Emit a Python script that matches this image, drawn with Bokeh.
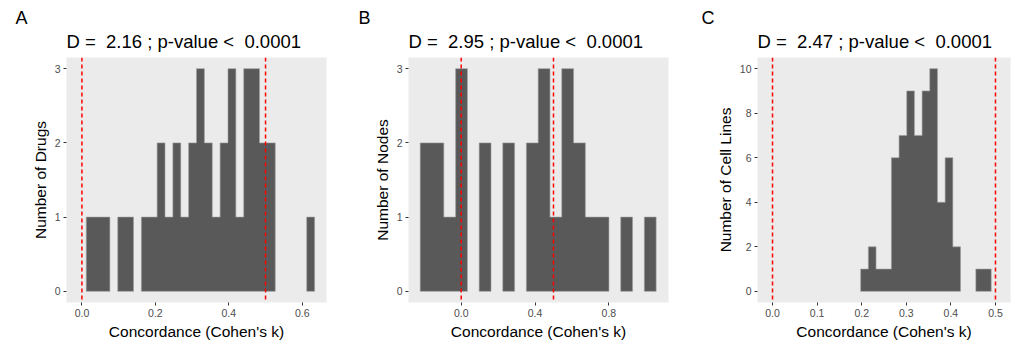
from bokeh.plotting import figure
from bokeh.models import Range1d, FixedTicker, Span, Title
from bokeh.layouts import row
from bokeh.embed import file_html
from bokeh.resources import INLINE
import numpy as np

FONT = "Liberation Sans"
NB = "\u00a0"

# ---- Panel A: drugs ----
a_counts = [0, 1, 1, 1, 0, 1, 1, 0, 1, 1, 2, 1, 2, 1, 2, 3, 2, 1, 2, 3, 1, 3, 3, 2, 2, 0, 0, 0, 0, 1]
a_bin_start = -0.0096
a_bin_width = 0.02144
a_xticks = [0.0, 0.2, 0.4, 0.6]
a_xlabels = ["0.0", "0.2", "0.4", "0.6"]
a_yticks = [0, 1, 2, 3]
a_title = "D =" + NB + " 2.16 ; p-value <" + NB + " 0.0001"
a_ylabel = "Number of Drugs"

# ---- Panel B: nodes ----
b_counts = [2, 2, 1, 3, 0, 2, 0, 2, 0, 2, 3, 1, 3, 2, 1, 1, 0, 1, 0, 1]
b_bin_start = -0.222
b_bin_width = 0.0639
b_xticks = [0.0, 0.4, 0.8]
b_xlabels = ["0.0", "0.4", "0.8"]
b_yticks = [0, 1, 2, 3]
b_title = "D =" + NB + " 2.95 ; p-value <" + NB + " 0.0001"
b_ylabel = "Number of Nodes"

# ---- Panel C: cell lines ----
c_counts = [1, 2, 1, 1, 6, 7, 9, 7, 9, 10, 4, 6, 2, 0, 0, 1, 1]
c_bin_start = 0.1977
c_bin_width = 0.01722
c_xticks = [0.0, 0.1, 0.2, 0.3, 0.4, 0.5]
c_xlabels = ["0.0", "0.1", "0.2", "0.3", "0.4", "0.5"]
c_yticks = [0, 2, 4, 6, 8, 10]
c_title = "D =" + NB + " 2.47 ; p-value <" + NB + " 0.0001"
c_ylabel = "Number of Cell Lines"

thresholds = [0.0, 0.5]
xlabel = "Concordance (Cohen's k)"


def step_polys(counts, start, bw):
    """Outline polygons of contiguous runs of non-empty bins."""
    xs, ys = [], []
    run = []
    for i, c in enumerate(list(counts) + [0]):
        if c > 0:
            run.append(i)
        elif run:
            px = [start + bw * run[0]]
            py = [0]
            for j in run:
                px += [start + bw * j, start + bw * (j + 1)]
                py += [counts[j], counts[j]]
            px.append(start + bw * (run[-1] + 1))
            py.append(0)
            xs.append(px)
            ys.append(py)
            run = []
    return xs, ys


def panel(counts, start, bw, xr, yr, xticks, xlabels, yticks, ylabel, title,
          letter, bl, br, letter_dx):
    p = figure(width=337, height=343, x_range=Range1d(*xr), y_range=Range1d(*yr),
               output_backend="svg", toolbar_location=None, title=None,
               min_border_left=bl, min_border_right=br,
               min_border_top=57, min_border_bottom=41)
    p.background_fill_color = "#EBEBEB"
    p.border_fill_color = "white"
    p.outline_line_color = None
    p.grid.visible = False

    xs, ys = step_polys(counts, start, bw)
    p.patches(xs=xs, ys=ys, fill_color="#595959", line_color="#9E9E9E", line_width=0.6)

    for t in thresholds:
        p.add_layout(Span(location=t, dimension="height", line_color="#FF0000",
                          line_dash="4 3", line_width=1.5))

    for ax in (p.xaxis[0], p.yaxis[0]):
        ax.axis_line_color = None
        ax.major_tick_line_color = "#333333"
        ax.major_tick_line_width = 1
        ax.major_tick_out = 3
        ax.major_tick_in = 0
        ax.minor_tick_line_color = None
        ax.major_label_text_font = FONT
        ax.major_label_text_font_size = "10.5px"
        ax.major_label_text_color = "#4D4D4D"
        ax.major_label_standoff = 3
        ax.axis_label_text_font = FONT
        ax.axis_label_text_font_size = "15.5px"
        ax.axis_label_text_font_style = "normal"
        ax.axis_label_text_color = "black"
        ax.axis_label_standoff = 3

    p.xaxis.ticker = FixedTicker(ticks=xticks)
    p.xaxis.major_label_overrides = {t: s for t, s in zip(xticks, xlabels)}
    p.yaxis.ticker = FixedTicker(ticks=yticks)
    p.xaxis.axis_label = xlabel
    p.yaxis.axis_label = ylabel

    p.add_layout(Title(text=title, align="left", offset=0, standoff=11,
                       text_font=FONT, text_font_size="18.5px", text_color="black",
                       text_font_style="normal"), "above")
    p.add_layout(Title(text=letter, align="left", offset=letter_dx, standoff=-9,
                       text_font=FONT, text_font_size="18px", text_color="black",
                       text_font_style="normal"), "above")
    return p


pa = panel(a_counts, a_bin_start, a_bin_width, (-0.042, 0.666), (-0.15, 3.15),
           a_xticks, a_xlabels, a_yticks, a_ylabel, a_title, "A", 66, 11, -51)
pb = panel(b_counts, b_bin_start, b_bin_width, (-0.2855, 1.123), (-0.15, 3.15),
           b_xticks, b_xlabels, b_yticks, b_ylabel, b_title, "B", 71, 6, -50)
pc = panel(c_counts, c_bin_start, c_bin_width, (-0.0337, 0.5337), (-0.5, 10.5),
           c_xticks, c_xlabels, c_yticks, c_ylabel, c_title, "C", 83, 1, -56)

layout = row(pa, pb, pc, spacing=0)
open("out.html", "w").write(file_html(layout, INLINE))
